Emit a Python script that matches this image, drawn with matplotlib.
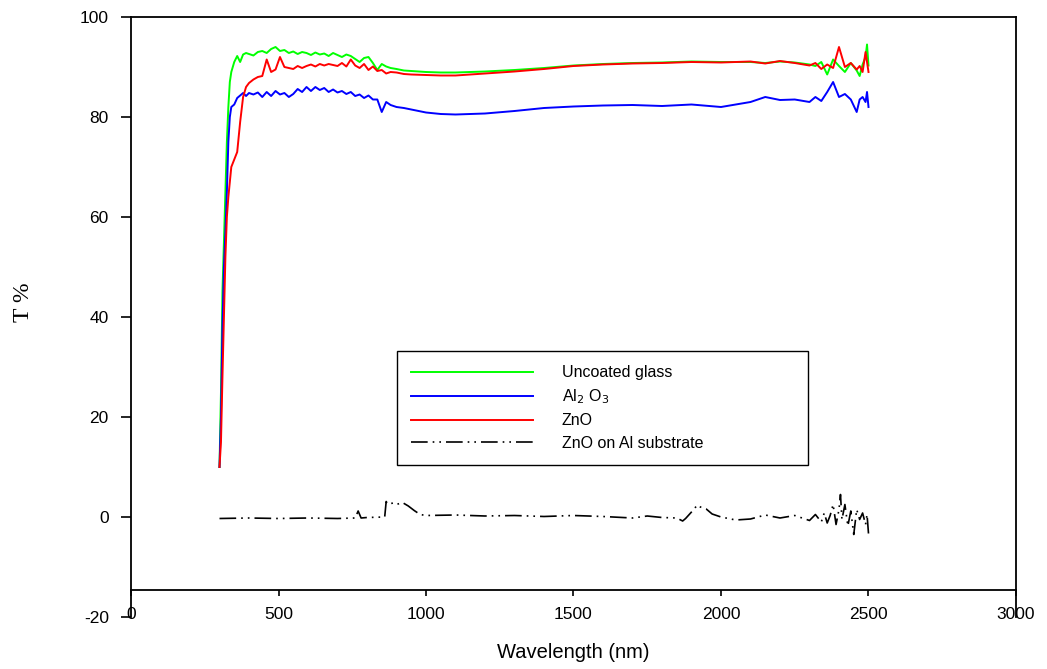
import matplotlib
matplotlib.use("Agg")
import matplotlib.pyplot as plt

# wavelength grid (nm) shared by the three transmission curves
wl = [300, 305, 310, 315, 320, 325, 330, 335, 340, 350,
      360, 370, 380, 390, 400, 415, 430, 445, 460, 475,
      490, 505, 520, 535, 550, 565, 580, 595, 610, 625,
      640, 655, 670, 685, 700, 715, 730, 745, 760, 775,
      790, 805, 820, 835, 850, 865, 880, 900, 925, 950,
      1000, 1050, 1100, 1150, 1200, 1300, 1400, 1500, 1600, 1700,
      1800, 1900, 2000, 2100, 2150, 2200, 2250, 2300, 2320, 2340,
      2360, 2380, 2400, 2420, 2440, 2460, 2470, 2480, 2490, 2495,
      2500]

glass = [10, 25, 45, 55, 65, 75, 82, 87, 89, 91,
         92.2, 91, 92.5, 92.8, 92.6, 92.3, 93, 93.2, 92.8, 93.6,
         94, 93.2, 93.4, 92.8, 93.1, 92.6, 93, 92.8, 92.4, 92.9,
         92.5, 92.7, 92.2, 92.8, 92.4, 92.0, 92.5, 92.2, 91.6, 91,
         91.8, 92, 90.8, 89.4, 90.6, 90.1, 89.8, 89.6, 89.3, 89.2,
         89, 88.9, 88.9, 89, 89.1, 89.4, 89.8, 90.3, 90.6, 90.8,
         90.9, 91.1, 91, 91, 90.8, 91.1, 90.9, 90.5, 90.2, 91,
         88.5, 91.5, 90.2, 89, 90.8, 89.3, 88.2, 90.5, 92, 94.5,
         90.3]

al2o3 = [10, 20, 38, 50, 57, 65, 75, 80, 82, 82.5,
         83.8, 84.3, 84.8, 84.2, 84.8, 84.5, 84.9, 84, 85, 84.2,
         85.2, 84.5, 84.8, 84, 84.6, 85.6, 85, 86, 85.2, 86,
         85.4, 85.8, 85, 85.5, 84.9, 85.2, 84.6, 85, 84.2, 84.5,
         83.8, 84.3, 83.5, 83.5, 81, 83, 82.4, 82, 81.8, 81.5,
         80.9, 80.6, 80.5, 80.6, 80.7, 81.2, 81.8, 82.1, 82.3, 82.4,
         82.2, 82.5, 82, 83, 84, 83.4, 83.5, 83, 84, 83.2,
         85, 87, 84, 84.6, 83.5, 81, 83.5, 84, 83, 85,
         82]

zno = [10, 15, 28, 40, 52, 60, 64, 67, 70, 71.5,
       73, 79, 84, 86, 86.8, 87.5, 88, 88.2, 91.5, 89,
       89.5, 92, 90, 89.8, 89.6, 90.2, 89.8, 90.2, 90.5, 90.1,
       90.6, 90.3, 90.6, 90.4, 90.2, 90.8, 90.1, 91.5, 90.3, 89.8,
       90.6, 89.4, 90.1, 89.2, 89.4, 88.7, 89, 88.9, 88.6, 88.5,
       88.4, 88.3, 88.3, 88.5, 88.7, 89.1, 89.6, 90.2, 90.5, 90.7,
       90.8, 91, 90.9, 91.1, 90.7, 91.2, 90.8, 90.3, 90.8, 89.6,
       90.5, 89.8, 94, 90, 90.8, 89.5, 90.2, 89, 93, 91,
       89]

# ZnO on Al substrate
wl_al = [300, 400, 500, 600, 700, 760, 770, 780, 800, 860,
         865, 870, 890, 900, 920, 940, 960, 980, 1000, 1100,
         1200, 1300, 1400, 1500, 1600, 1700, 1750, 1800, 1850, 1870,
         1880, 1900, 1920, 1930, 1950, 1970, 2000, 2050, 2100, 2150,
         2200, 2250, 2300, 2320, 2340, 2350, 2360, 2370, 2380, 2390,
         2400, 2405, 2410, 2420, 2430, 2440, 2450, 2460, 2470, 2480,
         2490, 2495, 2500]
zno_al = [-0.3, -0.2, -0.3, -0.2, -0.3, -0.2, 1.2, -0.2, -0.1, 0,
          3.1, 2.6, 2.8, 2.5, 2.9, 2.2, 1.3, 0.5, 0.3, 0.4,
          0.2, 0.3, 0.1, 0.3, 0.1, -0.2, 0.2, -0.1, -0.2, -0.8,
          -0.3, 1.0, 2.4, 2.0, 1.6, 0.6, 0, -0.6, -0.4, 0.4,
          -0.2, 0.3, -0.7, 0.5, -1.0, 0.8, -1.2, 0.3, 2.5, -1.5,
          1.5, 4.5, -0.5, 2.5, -1.8, 1.2, -3.5, 1.5, -0.5, 0.8,
          -1.5, 0.5, -3.3]

xticks = [0, 500, 1000, 1500, 2000, 2500, 3000]
yticks = [-20, 0, 20, 40, 60, 80, 100]

plt.rcParams['font.family'] = ['Liberation Sans', 'DejaVu Sans']
plt.rcParams['axes.unicode_minus'] = False

fig = plt.figure(figsize=(10.47, 6.69), dpi=100)
ax = fig.add_axes([131/1047, 1 - 617/669, 885/1047, 600/669])

ax.plot(wl, glass, color="#00ff00", linewidth=1.4, label="Uncoated glass")
ax.plot(wl, al2o3, color="#0000ff", linewidth=1.4, label="Al$_2$ O$_3$")
ax.plot(wl, zno, color="#ff0000", linewidth=1.4, label="ZnO")
ax.plot(wl_al, zno_al, color="black", linewidth=1.2,
        linestyle=(0, (10, 3, 1, 3, 1, 3)), label="ZnO on Al substrate")

ax.set_xlim(0, 3000)
ax.set_ylim(-20, 100)
ax.set_xticks(xticks)
ax.set_yticks(yticks)

# x axis drawn inside the frame, like the original software
ax.spines['bottom'].set_position(('data', -14.6))
for s in ax.spines.values():
    s.set_linewidth(1.3)

ax.tick_params(axis='x', direction='out', length=4.5, width=1.2, pad=8, labelsize=12.5)
ax.tick_params(axis='y', direction='out', length=7, width=1.2, pad=9, labelsize=12.5)

ax.set_xlabel("Wavelength (nm)", fontsize=14.5)
ax.xaxis.set_label_coords(0.5, -0.043)
ax.set_ylabel("T %", fontsize=17, family=['Liberation Serif', 'DejaVu Serif'], va='center')
ax.yaxis.set_label_coords(-0.121, 0.525)

leg = ax.legend(loc='upper left', bbox_to_anchor=(0.3006, 0.25, 0.4644, 0.1933),
                mode='expand', borderaxespad=0,
                fancybox=False, edgecolor='black', fontsize=11.5, handlelength=7.6,
                handletextpad=1.8, labelspacing=0.45, borderpad=0.9, framealpha=1)
leg.get_frame().set_linewidth(1.0)

fig.savefig("out.png", dpi=100)
